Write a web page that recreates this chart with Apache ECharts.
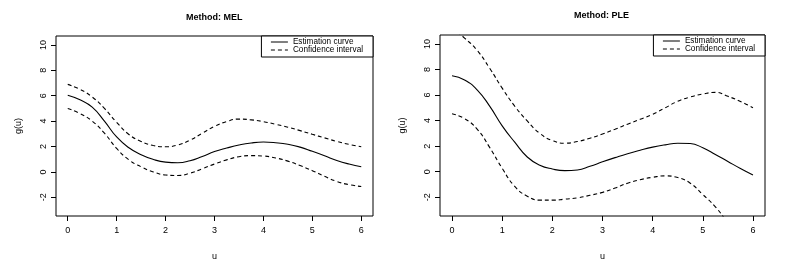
<!DOCTYPE html>
<html>
<head>
<meta charset="utf-8">
<script src="https://cdn.jsdelivr.net/npm/echarts@6/dist/echarts.min.js"></script>
<style>html,body{margin:0;padding:0;background:#fff;}#c{width:793px;height:266px;}</style>
</head>
<body>
<div id="c"></div>
<script>
// ---- Data ----
const xTicks = [0, 1, 2, 3, 4, 5, 6];
const yTicks = [-2, 0, 2, 4, 6, 8, 10];
const xTickLabels = ['0', '1', '2', '3', '4', '5', '6'];
const yTickLabels = ['-2', '0', '2', '4', '6', '8', '10'];
const titles = ['Method: MEL', 'Method: PLE'];
const legendNames = ['Estimation curve', 'Confidence interval'];

// u grid (shared by both panels)
const uGrid = [0, 0.25, 0.5, 0.75, 1, 1.25, 1.5, 1.75, 2, 2.25, 2.5, 2.75, 3, 3.25, 3.5, 3.75, 4, 4.25, 4.5, 4.75, 5, 5.25, 5.5, 5.75, 6];

const melEst   = [6.04, 5.68, 5.1, 4.0, 2.75, 1.9, 1.35, 0.98, 0.77, 0.72, 0.88, 1.22, 1.6, 1.88, 2.12, 2.28, 2.35, 2.3, 2.18, 1.95, 1.62, 1.27, 0.9, 0.62, 0.41];
const melUpper = [6.89, 6.5, 5.9, 5.0, 3.9, 2.95, 2.4, 2.08, 1.98, 2.12, 2.5, 3.05, 3.58, 3.97, 4.16, 4.1, 3.96, 3.75, 3.52, 3.25, 2.96, 2.68, 2.4, 2.17, 1.98];
const melLower = [5.0, 4.6, 4.0, 3.05, 1.85, 0.95, 0.4, 0.0, -0.24, -0.28, -0.1, 0.25, 0.62, 0.95, 1.2, 1.28, 1.25, 1.1, 0.85, 0.5, 0.1, -0.35, -0.75, -1.0, -1.15];

const pleEst   = [7.51, 7.18, 6.41, 5.13, 3.59, 2.31, 1.15, 0.51, 0.21, 0.08, 0.13, 0.42, 0.77, 1.1, 1.41, 1.68, 1.92, 2.1, 2.23, 2.2, 1.87, 1.35, 0.8, 0.25, -0.26];
const pleUpper = [11.3, 10.46, 9.5, 8.1, 6.54, 5.13, 3.97, 3.0, 2.44, 2.23, 2.36, 2.62, 2.95, 3.32, 3.72, 4.1, 4.49, 5.0, 5.51, 5.85, 6.08, 6.21, 5.9, 5.5, 5.0];
const pleLower = [4.54, 4.15, 3.33, 1.9, 0.26, -1.15, -1.92, -2.23, -2.23, -2.15, -2.05, -1.85, -1.62, -1.28, -0.9, -0.63, -0.44, -0.33, -0.46, -0.9, -1.79, -2.75, -4.0, -5.2, -6.5];

// ---- Chart ----
const FONT = 'Liberation Sans, Arial, sans-serif';
const pairs = (xs, ys) => xs.map((x, i) => [x, ys[i]]);
const chart = echarts.init(document.getElementById('c'), null, {renderer: 'canvas'});

const grids = [
  {left: 56, top: 36, width: 317, height: 184},
  {left: 440, top: 35, width: 325, height: 184}
];

function xAxisFor(i) {
  return {
    gridIndex: i, type: 'value', min: -0.24, max: 6.24, position: 'bottom',
    name: 'u', nameLocation: 'middle', nameGap: 36,
    nameTextStyle: {fontFamily: FONT, fontSize: 9, color: '#000'},
    axisLine: {show: false, onZero: false}, splitLine: {show: false},
    axisTick: {show: true, inside: false, length: 5, customValues: xTicks, lineStyle: {color: '#000', width: 1}},
    axisLabel: {customValues: xTicks, margin: 10, fontFamily: FONT, fontSize: 9, color: '#000',
      formatter: v => xTickLabels[xTicks.indexOf(v)]}
  };
}
function yAxisFor(i) {
  return {
    gridIndex: i, type: 'value', min: -3.47, max: 10.7, position: 'left',
    name: 'g(u)', nameLocation: 'middle', nameGap: 33, nameRotate: 90,
    nameTextStyle: {fontFamily: FONT, fontSize: 9, color: '#000'},
    axisLine: {show: false, onZero: false}, splitLine: {show: false},
    axisTick: {show: true, inside: false, length: 5, customValues: yTicks, lineStyle: {color: '#000', width: 1}},
    axisLabel: {customValues: yTicks, rotate: 90, margin: 8, fontFamily: FONT, fontSize: 9, color: '#000',
      formatter: v => yTickLabels[yTicks.indexOf(v)]}
  };
}
function lineSeries(name, i, xs, ys, dashed) {
  return {
    name: name, type: 'line', xAxisIndex: i, yAxisIndex: i,
    data: pairs(xs, ys), smooth: 0.5, symbol: 'none', showSymbol: false, clip: true,
    itemStyle: {color: '#000'},
    lineStyle: {color: '#000', width: 1.1, type: dashed ? [4, 3] : 'solid'},
    emphasis: {disabled: true}, silent: true
  };
}

const legendCommon = {
  orient: 'vertical', itemWidth: 17, itemHeight: 8, itemGap: 0,
  padding: [2, 10, 3, 9], borderColor: '#000', borderWidth: 1, backgroundColor: '#fff',
  textStyle: {fontFamily: FONT, fontSize: 8.2, color: '#000', padding: [0, 0, 0, 0]},
  itemStyle: {color: 'rgba(0,0,0,0)', borderColor: 'rgba(0,0,0,0)', borderWidth: 0, opacity: 0},
  lineStyle: {width: 1},
  data: legendNames, selectedMode: false
};

chart.setOption({
  animation: false,
  backgroundColor: '#fff',
  title: [
    {text: titles[0], left: 186, top: 13, padding: 0, textStyle: {fontFamily: FONT, fontSize: 9, fontWeight: 'bold', color: '#000'}},
    {text: titles[1], left: 574, top: 11, padding: 0, textStyle: {fontFamily: FONT, fontSize: 9, fontWeight: 'bold', color: '#000'}}
  ],
  grid: grids.map(g => Object.assign({show: true, borderColor: '#000', borderWidth: 1, backgroundColor: 'transparent', containLabel: false}, g)),
  xAxis: [xAxisFor(0), xAxisFor(1)],
  yAxis: [yAxisFor(0), yAxisFor(1)],
  legend: [
    Object.assign({}, legendCommon, {right: 793 - 373, top: 36}),
    Object.assign({}, legendCommon, {right: 793 - 765, top: 35})
  ],
  series: [
    lineSeries(legendNames[0], 0, uGrid, melEst, false),
    lineSeries(legendNames[1], 0, uGrid, melUpper, true),
    lineSeries(legendNames[1], 0, uGrid, melLower, true),
    lineSeries(legendNames[0], 1, uGrid, pleEst, false),
    lineSeries(legendNames[1], 1, uGrid, pleUpper, true),
    lineSeries(legendNames[1], 1, uGrid, pleLower, true)
  ]
});
</script>
</body>
</html>
